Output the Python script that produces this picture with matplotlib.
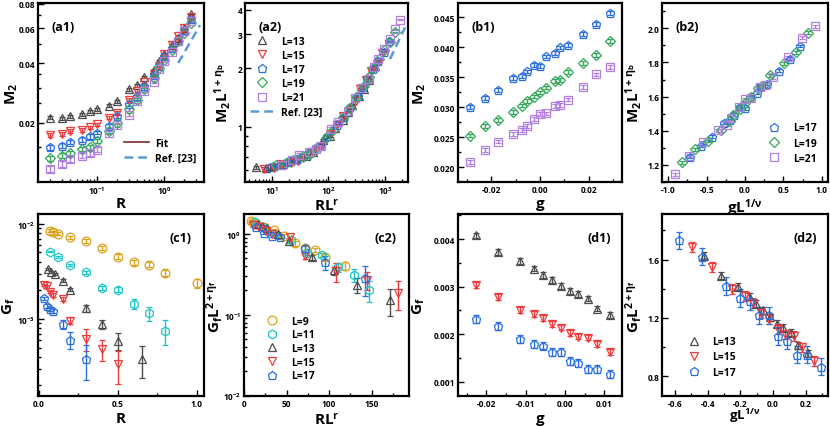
import numpy as np
import matplotlib
matplotlib.use("Agg")
import matplotlib.pyplot as plt
from matplotlib.container import ErrorbarContainer
from matplotlib.ticker import FixedLocator, FormatStrFormatter, NullFormatter, LogLocator, MultipleLocator

# ---- data ----
# (a1) M2 vs R for several L
R_a = [0.02, 0.03, 0.04, 0.06, 0.08, 0.1, 0.15, 0.2, 0.3, 0.4, 0.5, 0.7, 0.85, 1.0, 1.3, 1.6, 2.0, 2.5]
M2_a13 = [0.0212, 0.0210, 0.0215, 0.0220, 0.0228, 0.0233, 0.0243, 0.0256, 0.0294, 0.0308, 0.0340, 0.0370, 0.0408, 0.0446, 0.0494, 0.0535, 0.0600, 0.0707]
M2_a15 = [0.0173, 0.0175, 0.0182, 0.0184, 0.0189, 0.0196, 0.0212, 0.0224, 0.0261, 0.0290, 0.0322, 0.0353, 0.0385, 0.0446, 0.0494, 0.0550, 0.0600, 0.0680]
M2_a17 = [0.0150, 0.0153, 0.0159, 0.0164, 0.0170, 0.0178, 0.0192, 0.0215, 0.0247, 0.0272, 0.0305, 0.0349, 0.0385, 0.0432, 0.0476, 0.0524, 0.0588, 0.0665]
M2_a19 = [0.0132, 0.0136, 0.0140, 0.0147, 0.0150, 0.0162, 0.0182, 0.0200, 0.0233, 0.0261, 0.0296, 0.0336, 0.0378, 0.0416, 0.0466, 0.0515, 0.0567, 0.0640]
M2_a21 = [0.0116, 0.0123, 0.0130, 0.0136, 0.0140, 0.0146, 0.0178, 0.0194, 0.0219, 0.0256, 0.0288, 0.0322, 0.0371, 0.0408, 0.0457, 0.0515, 0.0580, 0.0650]
M2_err = 0.0004
fit_R = [1.46, 2.74]
fit_M2 = [0.0467, 0.0698]
ref_R = [1.63, 3.44]
ref_M2 = [0.040, 0.0622]
ref_a2_x = [1225, 2255]
ref_a2_y = [2.23, 3.25]

# (b1) M2 vs g
g_b = [-0.0285, -0.0225, -0.017, -0.011, -0.0075, -0.0055, -0.0025, 0.0, 0.0025, 0.006, 0.008, 0.0115, 0.0175, 0.023, 0.0285]
M2_b17 = [0.0301, 0.0316, 0.0329, 0.0349, 0.0352, 0.0360, 0.0371, 0.0369, 0.0385, 0.0391, 0.0400, 0.0404, 0.0422, 0.0439, 0.0457]
M2_b19 = [0.0253, 0.0269, 0.0279, 0.0292, 0.0303, 0.0311, 0.0318, 0.0325, 0.0333, 0.0344, 0.0346, 0.0359, 0.0374, 0.0387, 0.0411]
M2_b21 = [0.0209, 0.0229, 0.0243, 0.0256, 0.0262, 0.0269, 0.0281, 0.0289, 0.0290, 0.0302, 0.0304, 0.0313, 0.0334, 0.0355, 0.0367]
M2_b_err = 0.0003

# (c1) Gf vs R
R_c9 = [0.07, 0.09, 0.12, 0.2, 0.3, 0.4, 0.5, 0.6, 0.7, 0.8, 1.0]
Gf_c9 = [0.0085, 0.00817, 0.00785, 0.00724, 0.00658, 0.00558, 0.00453, 0.00395, 0.00373, 0.00305, 0.00239]
err_c9 = [0.0003, 0.0003, 0.0003, 0.0003, 0.0003, 0.0003, 0.0003, 0.00025, 0.00025, 0.00025, 0.00025]
R_c11 = [0.07, 0.12, 0.2, 0.3, 0.4, 0.5, 0.6, 0.7, 0.8]
Gf_c11 = [0.00512, 0.00446, 0.0037, 0.0031, 0.00212, 0.00203, 0.00144, 0.00115, 0.000753]
err_c11 = [0.0001, 0.0001, 0.0001, 0.0001, 0.0001, 0.00012, 0.00018, 0.0002, 0.00022]
R_c13 = [0.06, 0.08, 0.1, 0.15, 0.2, 0.3, 0.4, 0.5, 0.65]
Gf_c13 = [0.00336, 0.0031, 0.00298, 0.00253, 0.00203, 0.00129, 0.000885, 0.000591, 0.000379]
err_c13 = [0.00008, 0.00008, 0.00008, 0.00008, 0.00008, 0.0001, 0.0001, 0.00012, 0.00014]
R_c15 = [0.03, 0.05, 0.07, 0.09, 0.15, 0.2, 0.3, 0.4, 0.5]
Gf_c15 = [0.00228, 0.00221, 0.00194, 0.0018, 0.00163, 0.00096, 0.000616, 0.000483, 0.000336]
err_c15 = [0.00008, 0.00008, 0.00008, 0.00008, 0.00008, 0.00008, 0.00016, 0.00012, 0.00013]
R_c17 = [0.03, 0.05, 0.07, 0.09, 0.15, 0.2, 0.3]
Gf_c17 = [0.00165, 0.00138, 0.00127, 0.00122, 0.000885, 0.000601, 0.000379]
err_c17 = [0.00006, 0.00006, 0.00006, 0.00006, 0.0001, 0.00012, 0.00015]

# (d1) Gf vs g
g_d = [-0.0227, -0.0171, -0.0115, -0.0079, -0.0057, -0.0034, -0.0011, 0.0013, 0.0034, 0.0058, 0.0081, 0.0115]
Gf_d13 = [0.00408, 0.00373, 0.00354, 0.00338, 0.00325, 0.00314, 0.00302, 0.00291, 0.00284, 0.00275, 0.00254, 0.0024]
Gf_d15 = [0.00303, 0.00278, 0.00251, 0.00242, 0.00234, 0.00221, 0.00214, 0.00202, 0.00195, 0.00193, 0.00179, 0.00162]
Gf_d17 = [0.00232, 0.00217, 0.0019, 0.00179, 0.00176, 0.00163, 0.00163, 0.00144, 0.0014, 0.00127, 0.00127, 0.00116]
err_d13 = 0.00006
err_d15 = 0.00006
err_d17 = 0.00008

# exponents used for the data collapse
r_exp = 2.175
inv_nu = 1.14
eta_b = 1.315   # 1 + eta_b
eta_f = 2.335   # 2 + eta_f

STY = {
    9: ("#D9A21B", "o"),
    11: ("#1CC6C8", "h"),
    13: ("#4D4D4D", "^"),
    15: ("#EE3B3B", "v"),
    17: ("#2A6FE0", "p"),
    19: ("#35A85A", "D"),
    21: ("#B07FE0", "s"),
}

plt.rcParams['font.family'] = ['Open Sans', 'DejaVu Sans']
plt.rcParams['font.weight'] = 'bold'
plt.rcParams['mathtext.fontset'] = 'custom'
plt.rcParams['mathtext.rm'] = 'Open Sans:bold'
plt.rcParams['mathtext.it'] = 'Open Sans:bold'
plt.rcParams['mathtext.bf'] = 'Open Sans:bold'
plt.rcParams['mathtext.default'] = 'rm'
plt.rcParams['axes.linewidth'] = 1.6

LEG = {'size': 7.5, 'weight': 'bold'}


def style_ax(ax, ylab_x, xlab_y):
    ax.tick_params(which='both', direction='in', top=False, right=False, labelsize=6, width=1, pad=2)
    ax.tick_params(which='major', length=4.5)
    ax.tick_params(which='minor', length=2.5)
    for lab in ax.get_xticklabels() + ax.get_yticklabels():
        lab.set_fontweight('bold')
    ax.yaxis.set_label_coords(ylab_x, 0.5)
    ax.xaxis.set_label_coords(0.5, xlab_y)


def pts(ax, x, y, err, L, label=None, ms=6.3):
    c, m = STY[L]
    ms_ = ms - 1.2 if m == 'D' else ms
    ax.errorbar(x, y, yerr=err, fmt=m, mfc='none', mec=c, ecolor=c, ms=ms_, mew=0.9,
                capsize=2, elinewidth=1, capthick=1, label=label)


def marker_legend(ax, **kw):
    hs, ls = ax.get_legend_handles_labels()
    hs = [h[0] if isinstance(h, ErrorbarContainer) else h for h in hs]
    return ax.legend(hs, ls, frameon=False, prop=LEG, **kw)


def panel_label(ax, s, x, y):
    ax.text(x, y, s, transform=ax.transAxes, fontsize=9, fontweight='bold')


fig = plt.figure(figsize=(8.3, 4.27), dpi=100)
top_b, top_h = 0.5714, 0.4192
bot_b, bot_h = 0.0703, 0.4262
ax_a1 = fig.add_axes([0.0458, top_b, 0.2, top_h])
ax_a2 = fig.add_axes([0.2952, top_b, 0.1964, top_h])
ax_b1 = fig.add_axes([0.5518, top_b, 0.1976, top_h])
ax_b2 = fig.add_axes([0.7976, top_b, 0.2, top_h])
ax_c1 = fig.add_axes([0.0458, bot_b, 0.2, bot_h])
ax_c2 = fig.add_axes([0.2940, bot_b, 0.1988, bot_h])
ax_d1 = fig.add_axes([0.5518, bot_b, 0.1976, bot_h])
ax_d2 = fig.add_axes([0.7976, bot_b, 0.2, bot_h])

XL = dict(fontsize=11, fontweight='bold')
TOP_XL = -0.08
BOT_XL = -0.082

# ---- (a1) ----
a_sets = [(13, M2_a13), (15, M2_a15), (17, M2_a17), (19, M2_a19), (21, M2_a21)]
for L, m2 in a_sets:
    pts(ax_a1, R_a, m2, M2_err, L)
ax_a1.plot(fit_R, fit_M2, color="#8B3A3A", lw=1.3, label="Fit")
ax_a1.plot(ref_R, ref_M2, color="#5B9BD5", lw=1.8, ls=(0, (3.5, 2)), label="Ref. [23]")
ax_a1.set_xscale('log')
ax_a1.set_yscale('log')
ax_a1.set_xlim(0.0132, 3.95)
ax_a1.set_ylim(0.01, 0.0805)
ax_a1.yaxis.set_major_locator(FixedLocator([0.02, 0.04, 0.06, 0.08]))
ax_a1.yaxis.set_major_formatter(FormatStrFormatter('%.2f'))
ax_a1.yaxis.set_minor_locator(FixedLocator([0.015, 0.025, 0.03, 0.035, 0.05, 0.07]))
ax_a1.yaxis.set_minor_formatter(NullFormatter())
ax_a1.set_xlabel("R", **XL)
ax_a1.set_ylabel("M$_2$", **XL)
ax_a1.legend(loc='lower right', bbox_to_anchor=(1.01, 0.05), frameon=False,
             prop=LEG, handlelength=2.4, labelspacing=0.35, handletextpad=0.6)
panel_label(ax_a1, "(a1)", 0.08, 0.85)
style_ax(ax_a1, -0.11, TOP_XL)

# ---- (a2) ----
for L, m2 in a_sets:
    x = np.array(R_a) * L ** r_exp
    y = np.array(m2) * L ** eta_b
    pts(ax_a2, x, y, M2_err * L ** eta_b, L, label=f"L={L}")
ax_a2.plot(ref_a2_x, ref_a2_y, color="#5B9BD5", lw=1.8, ls=(0, (3.5, 2)), label="Ref. [23]")
ax_a2.set_xscale('log')
ax_a2.set_yscale('log')
ax_a2.set_xlim(3.4, 2550)
ax_a2.set_ylim(0.52, 4.34)
ax_a2.yaxis.set_major_locator(FixedLocator([1, 2, 3, 4]))
ax_a2.yaxis.set_major_formatter(FormatStrFormatter('%d'))
ax_a2.yaxis.set_minor_locator(FixedLocator([0.6, 0.7, 0.8, 0.9]))
ax_a2.yaxis.set_minor_formatter(NullFormatter())
ax_a2.set_xlabel("RL$^r$", **XL)
ax_a2.set_ylabel("M$_2$L$^{1+\\eta_b}$", **XL)
hs, ls = ax_a2.get_legend_handles_labels()
hs = [h[0] if isinstance(h, ErrorbarContainer) else h for h in hs]
order = [1, 2, 3, 4, 5, 0]
ax_a2.legend([hs[i] for i in order], [ls[i] for i in order], loc='upper left', bbox_to_anchor=(-0.03, 0.87),
             frameon=False, prop=LEG, handlelength=2.4, labelspacing=0.3, handletextpad=0.6)
panel_label(ax_a2, "(a2)", 0.08, 0.85)
style_ax(ax_a2, -0.075, TOP_XL)

# ---- (b1) ----
b_sets = [(17, M2_b17), (19, M2_b19), (21, M2_b21)]
for L, m2 in b_sets:
    pts(ax_b1, g_b, m2, M2_b_err, L)
ax_b1.set_xlim(-0.0335, 0.0335)
ax_b1.set_ylim(0.01755, 0.0474)
ax_b1.xaxis.set_major_locator(MultipleLocator(0.02))
ax_b1.xaxis.set_minor_locator(MultipleLocator(0.01))
ax_b1.xaxis.set_major_formatter(FormatStrFormatter('%.2f'))
ax_b1.yaxis.set_major_locator(MultipleLocator(0.005))
ax_b1.yaxis.set_minor_locator(MultipleLocator(0.0025))
ax_b1.yaxis.set_major_formatter(FormatStrFormatter('%.3f'))
ax_b1.set_xlabel("g", **XL)
ax_b1.set_ylabel("M$_2$", **XL)
panel_label(ax_b1, "(b1)", 0.08, 0.85)
style_ax(ax_b1, -0.18, TOP_XL)

# ---- (b2) ----
for L, m2 in b_sets:
    x = np.array(g_b) * L ** inv_nu
    y = np.array(m2) * L ** eta_b
    pts(ax_b2, x, y, M2_b_err * L ** eta_b * 0.6, L, label=f"L={L}")
ax_b2.set_xlim(-1.082, 1.082)
ax_b2.set_ylim(1.10, 2.148)
ax_b2.xaxis.set_major_locator(MultipleLocator(0.5))
ax_b2.xaxis.set_minor_locator(MultipleLocator(0.25))
ax_b2.xaxis.set_major_formatter(FormatStrFormatter('%.1f'))
ax_b2.yaxis.set_major_locator(MultipleLocator(0.2))
ax_b2.yaxis.set_minor_locator(MultipleLocator(0.1))
ax_b2.yaxis.set_major_formatter(FormatStrFormatter('%.1f'))
ax_b2.set_xlabel("gL$^{1/\\nu}$", **XL)
ax_b2.set_ylabel("M$_2$L$^{1+\\eta_b}$", **XL)
marker_legend(ax_b2, loc='lower right', bbox_to_anchor=(0.99, 0.05),
              handlelength=2.4, labelspacing=0.4, handletextpad=0.6)
panel_label(ax_b2, "(b2)", 0.08, 0.85)
style_ax(ax_b2, -0.11, TOP_XL)

# ---- (c1) ----
c_sets = [(9, R_c9, Gf_c9, err_c9), (11, R_c11, Gf_c11, err_c11), (13, R_c13, Gf_c13, err_c13),
          (15, R_c15, Gf_c15, err_c15), (17, R_c17, Gf_c17, err_c17)]
for L, r, gf, e in c_sets:
    pts(ax_c1, r, gf, e, L)
ax_c1.set_yscale('log')
ax_c1.set_xlim(-0.005, 1.045)
ax_c1.set_ylim(1.55e-4, 1.27e-2)
ax_c1.xaxis.set_major_locator(MultipleLocator(0.5))
ax_c1.xaxis.set_minor_locator(MultipleLocator(0.25))
ax_c1.xaxis.set_major_formatter(FormatStrFormatter('%.1f'))
ax_c1.yaxis.set_major_locator(LogLocator(base=10, numticks=10))
ax_c1.set_xlabel("R", **XL)
ax_c1.set_ylabel("G$_f$", **XL)
panel_label(ax_c1, "(c1)", 0.79, 0.85)
style_ax(ax_c1, -0.125, BOT_XL)

# ---- (c2) ----
for L, r, gf, e in c_sets:
    x = np.array(r) * L ** r_exp
    y = np.array(gf) * L ** eta_f
    pts(ax_c2, x, y, np.array(e) * L ** eta_f, L, label=f"L={L}")
ax_c2.set_yscale('log')
ax_c2.set_xlim(0, 194)
ax_c2.set_ylim(0.0099, 1.76)
ax_c2.xaxis.set_major_locator(MultipleLocator(50))
ax_c2.xaxis.set_minor_locator(MultipleLocator(25))
ax_c2.set_xlabel("RL$^r$", **XL)
ax_c2.set_ylabel("G$_f$L$^{2+\\eta_f}$", **XL)
marker_legend(ax_c2, loc='lower left', bbox_to_anchor=(0.04, 0.03),
              handlelength=2.4, labelspacing=0.25, handletextpad=0.6)
panel_label(ax_c2, "(c2)", 0.79, 0.85)
style_ax(ax_c2, -0.115, BOT_XL)

# ---- (d1) ----
d_sets = [(13, Gf_d13, err_d13), (15, Gf_d15, err_d15), (17, Gf_d17, err_d17)]
for L, gf, e in d_sets:
    pts(ax_d1, g_d, gf, e, L)
ax_d1.set_xlim(-0.0272, 0.0145)
ax_d1.set_ylim(0.0007, 0.00453)
ax_d1.xaxis.set_major_locator(MultipleLocator(0.01))
ax_d1.xaxis.set_minor_locator(MultipleLocator(0.005))
ax_d1.xaxis.set_major_formatter(FormatStrFormatter('%.2f'))
ax_d1.yaxis.set_major_locator(MultipleLocator(0.001))
ax_d1.yaxis.set_minor_locator(MultipleLocator(0.0005))
ax_d1.yaxis.set_major_formatter(FormatStrFormatter('%.3f'))
ax_d1.set_xlabel("g", **XL)
ax_d1.set_ylabel("G$_f$", **XL)
panel_label(ax_d1, "(d1)", 0.79, 0.85)
style_ax(ax_d1, -0.19, BOT_XL)

# ---- (d2) ----
for L, gf, e in d_sets:
    x = np.array(g_d) * L ** inv_nu
    y = np.array(gf) * L ** eta_f
    pts(ax_d2, x, y, e * L ** eta_f, L, label=f"L={L}")
ax_d2.set_xlim(-0.68, 0.336)
ax_d2.set_ylim(0.665, 1.913)
ax_d2.xaxis.set_major_locator(MultipleLocator(0.2))
ax_d2.xaxis.set_minor_locator(MultipleLocator(0.1))
ax_d2.xaxis.set_major_formatter(FormatStrFormatter('%.1f'))
ax_d2.yaxis.set_major_locator(MultipleLocator(0.4))
ax_d2.yaxis.set_minor_locator(MultipleLocator(0.2))
ax_d2.yaxis.set_major_formatter(FormatStrFormatter('%.1f'))
ax_d2.set_xlabel("gL$^{1/\\nu}$", fontsize=9.5, fontweight='bold')
ax_d2.set_ylabel("G$_f$L$^{2+\\eta_f}$", **XL)
marker_legend(ax_d2, loc='lower left', bbox_to_anchor=(0.06, 0.05),
              handlelength=2.4, labelspacing=0.4, handletextpad=0.6)
panel_label(ax_d2, "(d2)", 0.79, 0.85)
style_ax(ax_d2, -0.11, -0.056)

fig.savefig("out.png", dpi=100)
